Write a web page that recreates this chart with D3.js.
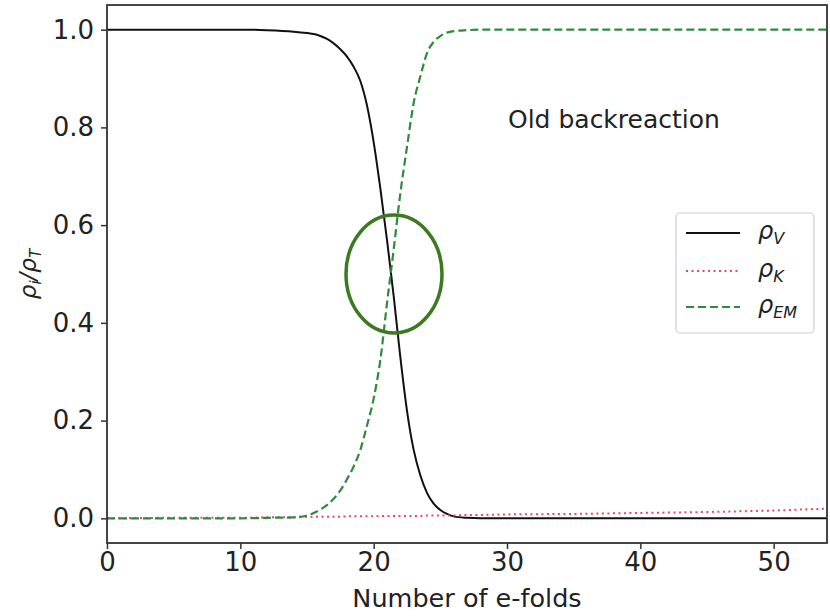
<!doctype html>
<html lang='en'>
<head>
    <meta charset='UTF-8'>
    <title>Old backreaction</title>
    <script src='https://cdn.jsdelivr.net/npm/d3@7/dist/d3.min.js'></script>
    <style>
        body { margin: 0; background: #fff; }
        text { font-family: 'DejaVu Sans', sans-serif; fill: #222; }
    </style>
</head>
<body>
<div id='chart'></div>
<script>
    const SIZE = { width: 830, height: 616 };
    const MARGIN = { left: 107, top: 5, right: 3, bottom: 73 };

    // number of e-folds (shared x grid)
    const efolds = [0, 5, 10, 12, 14, 15, 15.5, 16, 16.5, 17, 17.5, 18, 18.5, 19, 19.5, 20, 20.5, 21, 21.5, 22,
        22.5, 23, 23.5, 24, 24.5, 25, 25.5, 26, 27, 28, 30, 35, 40, 45, 50, 54];
    // rho_V / rho_T
    const rhoV = [1.000, 1.000, 1.000, 0.999, 0.996, 0.993, 0.991, 0.987, 0.981, 0.972, 0.960, 0.945, 0.924, 0.895,
        0.845, 0.770, 0.675, 0.570, 0.455, 0.330, 0.220, 0.140, 0.088, 0.052, 0.030, 0.017, 0.009, 0.004, 0.001,
        0.000, 0, 0, 0, 0, 0, 0];
    // rho_K / rho_T
    const rhoK = [0.000, 0.001, 0.001, 0.002, 0.002, 0.003, 0.003, 0.003, 0.003, 0.003, 0.003, 0.004, 0.004, 0.004,
        0.004, 0.004, 0.005, 0.005, 0.005, 0.005, 0.005, 0.005, 0.005, 0.006, 0.006, 0.006, 0.006, 0.006, 0.007,
        0.007, 0.008, 0.009, 0.011, 0.013, 0.016, 0.020];
    // rho_EM / rho_T
    const rhoEM = [0, 0, 0, 0.001, 0.002, 0.006, 0.011, 0.018, 0.027, 0.040, 0.057, 0.080, 0.106, 0.140, 0.190,
        0.245, 0.324, 0.440, 0.550, 0.665, 0.760, 0.850, 0.904, 0.952, 0.975, 0.987, 0.994, 0.997, 0.999, 1.000,
        1, 1, 1, 1, 1, 1];

    const xTicks = [0, 10, 20, 30, 40, 50];
    const yTicks = [0.0, 0.2, 0.4, 0.6, 0.8, 1.0];

    const series = [
        { key: 'V', values: rhoV, color: '#111', dash: null, width: 2 },
        { key: 'K', values: rhoK, color: '#e8456a', dash: '2,3.5', width: 2 },
        { key: 'EM', values: rhoEM, color: '#2f8a3c', dash: '8,4', width: 2.2 }
    ];

    function draw() {
        const svg = d3.select('#chart').append('svg')
            .attr('width', SIZE.width).attr('height', SIZE.height);

        const x = d3.scaleLinear().domain([0, 54])
            .range([MARGIN.left, SIZE.width - MARGIN.right]);
        const y = d3.scaleLinear().domain([-0.0505, 1.0505])
            .range([SIZE.height - MARGIN.bottom, MARGIN.top]);

        const plot = svg.append('g');
        plot.append('clipPath').attr('id', 'clip').append('rect')
            .attr('x', MARGIN.left).attr('y', MARGIN.top)
            .attr('width', SIZE.width - MARGIN.left - MARGIN.right)
            .attr('height', SIZE.height - MARGIN.top - MARGIN.bottom);

        const line = d3.line()
            .x((d, i) => x(efolds[i]))
            .y(d => y(d))
            .curve(d3.curveMonotoneX);

        series.forEach(s => {
            plot.append('path')
                .attr('clip-path', 'url(#clip)')
                .attr('d', line(s.values))
                .attr('fill', 'none')
                .attr('stroke', s.color)
                .attr('stroke-width', s.width)
                .attr('stroke-dasharray', s.dash);
        });

        // axes
        const xAxis = d3.axisBottom(x).tickValues(xTicks).tickFormat(d3.format('d')).tickSizeOuter(0).tickSize(6).tickPadding(4);
        const yAxis = d3.axisLeft(y).tickValues(yTicks).tickFormat(d3.format('.1f')).tickSizeOuter(0).tickSize(6).tickPadding(7);

        const gx = svg.append('g')
            .attr('transform', 'translate(0,' + (SIZE.height - MARGIN.bottom) + ')')
            .call(xAxis);
        const gy = svg.append('g')
            .attr('transform', 'translate(' + MARGIN.left + ',0)')
            .call(yAxis);
        [gx, gy].forEach(g => {
            g.select('.domain').remove();
            g.selectAll('line').attr('stroke', '#333').attr('stroke-width', 1.5);
            g.selectAll('text').style('font-size', '26px').attr('fill', '#222');
        });

        // frame
        svg.append('rect')
            .attr('x', MARGIN.left).attr('y', MARGIN.top)
            .attr('width', SIZE.width - MARGIN.left - MARGIN.right)
            .attr('height', SIZE.height - MARGIN.top - MARGIN.bottom)
            .attr('fill', 'none').attr('stroke', '#333').attr('stroke-width', 1.8);

        // axis labels
        svg.append('text')
            .attr('x', (MARGIN.left + SIZE.width - MARGIN.right) / 2)
            .attr('y', 607)
            .attr('text-anchor', 'middle')
            .style('font-size', '25.5px')
            .text('Number of e-folds');

        const yl = svg.append('text')
            .attr('transform', 'translate(36,' + ((MARGIN.top + SIZE.height - MARGIN.bottom) / 2) + ')rotate(-90)')
            .attr('text-anchor', 'middle')
            .style('font-size', '23px')
            .style('font-style', 'italic');
        yl.append('tspan').text('ρ');
        yl.append('tspan').attr('dy', 5).style('font-size', '15px').text('i');
        yl.append('tspan').attr('dy', -5).text('/ρ');
        yl.append('tspan').attr('dy', 5).style('font-size', '15px').text('T');

        // annotation
        svg.append('text')
            .attr('x', 508).attr('y', 128)
            .style('font-size', '25px')
            .attr('fill', '#333')
            .text('Old backreaction');

        // legend
        const lg = svg.append('g');
        lg.append('rect')
            .attr('x', 676).attr('y', 213).attr('width', 138).attr('height', 120)
            .attr('rx', 4).attr('fill', '#fff').attr('fill-opacity', 0.8)
            .attr('stroke', '#d0d0d0').attr('stroke-width', 1.2);
        const rows = [233, 271, 307];
        series.forEach((s, i) => {
            lg.append('line')
                .attr('x1', 686).attr('x2', 740)
                .attr('y1', rows[i]).attr('y2', rows[i])
                .attr('stroke', s.color).attr('stroke-width', s.width)
                .attr('stroke-dasharray', s.dash);
            const t = lg.append('text')
                .attr('x', 758).attr('y', rows[i] + 6)
                .style('font-size', '24px').style('font-style', 'italic');
            t.append('tspan').text('ρ');
            t.append('tspan').attr('dy', 5).style('font-size', '16px').text(s.key);
        });

        // highlight ellipse
        svg.append('ellipse')
            .attr('cx', 394).attr('cy', 274).attr('rx', 48).attr('ry', 59)
            .attr('fill', 'none').attr('stroke', '#3b7a1f').attr('stroke-width', 3.5);
    }

    draw();
</script>
</body>
</html>
